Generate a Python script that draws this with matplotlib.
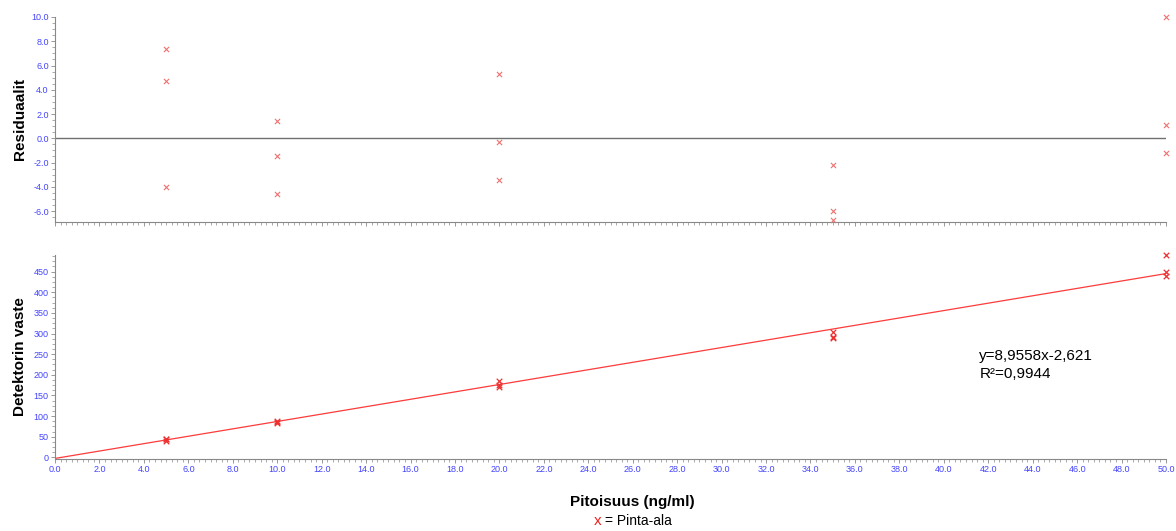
import matplotlib.pyplot as plt
from matplotlib.ticker import MultipleLocator, FormatStrFormatter

plt.rcParams['font.family'] = ['Liberation Sans', 'DejaVu Sans']

# concentration levels (ng/ml), three replicates each
conc = [5, 5, 5, 10, 10, 10, 20, 20, 20, 35, 35, 35, 50, 50, 50]
# residuals (%)
residuals = [7.4, 4.7, -4.0, 1.4, -1.5, -4.6, 5.3, -0.3, -3.4, -2.2, -6.0, -6.7, 10.0, 1.1, -1.2]
# detector response
response = [45.3, 44.2, 40.5, 88.1, 85.3, 82.4, 185.9, 175.9, 170.5, 304.0, 292.2, 290.0, 489.7, 450.1, 439.9]

slope = 8.9558
intercept = -2.621
fit_text = 'y=8,9558x-2,621\nR²=0,9944'

tick_blue = '#4444ff'
axis_gray = '#888888'

fig = plt.figure(figsize=(11.76, 5.31), dpi=100)
ax1 = fig.add_axes([0.0468, 0.582, 0.9447, 0.386])
ax2 = fig.add_axes([0.0468, 0.1356, 0.9447, 0.384])

for ax in (ax1, ax2):
    ax.set_xlim(0, 50)
    ax.xaxis.set_major_locator(MultipleLocator(2))
    ax.xaxis.set_minor_locator(MultipleLocator(0.25))
    ax.xaxis.set_major_formatter(FormatStrFormatter('%.1f'))
    for s in ('top', 'right'):
        ax.spines[s].set_visible(False)
    for s in ('left', 'bottom'):
        ax.spines[s].set_color(axis_gray)
        ax.spines[s].set_linewidth(0.8)
    ax.tick_params(which='major', length=3, width=0.6, color=axis_gray,
                   labelsize=6.5, labelcolor=tick_blue, pad=1.5)
    ax.tick_params(which='minor', length=2, width=0.5, color=axis_gray)

# residual panel
ax1.axhline(0, color='#707070', lw=1.0)
ax1.scatter(conc, residuals, marker='x', s=14, color='#f07070', linewidths=0.8,
            clip_on=False, zorder=3)
ax1.set_ylim(-6.9, 10.0)
ax1.yaxis.set_major_locator(MultipleLocator(2))
ax1.yaxis.set_minor_locator(MultipleLocator(0.5))
ax1.yaxis.set_major_formatter(FormatStrFormatter('%.1f'))
ax1.tick_params(axis='x', which='both', labelbottom=False)
ax1.set_ylabel('Residuaalit', fontsize=11, fontweight='bold')

# calibration panel
ax2.plot([0, 50], [intercept, slope * 50 + intercept], color='#ff3b3b', lw=0.9, zorder=2)
ax2.scatter(conc, response, marker='x', s=16, color='#ee3030', linewidths=0.9,
            clip_on=False, zorder=3)
ax2.set_ylim(-4, 490)
ax2.yaxis.set_major_locator(MultipleLocator(50))
ax2.yaxis.set_minor_locator(MultipleLocator(12.5))
ax2.set_ylabel('Detektorin vaste', fontsize=11, fontweight='bold')
ax2.text(41.6, 262, fit_text, fontsize=11, va='top', ha='left', linespacing=1.3)
ax2.set_xlabel('Pitoisuus (ng/ml)', fontsize=11, fontweight='bold')
ax2.xaxis.set_label_coords(0.52, -0.175)

ax1.yaxis.set_label_coords(-0.025, 0.5)
ax2.yaxis.set_label_coords(-0.025, 0.5)

# legend line below
fig.text(0.5115, 0.006, 'x', color='#ee2020', fontsize=11, ha='right', va='bottom')
fig.text(0.5145, 0.006, '= Pinta-ala', color='black', fontsize=10, ha='left', va='bottom')

fig.savefig('out.png', dpi=100)
